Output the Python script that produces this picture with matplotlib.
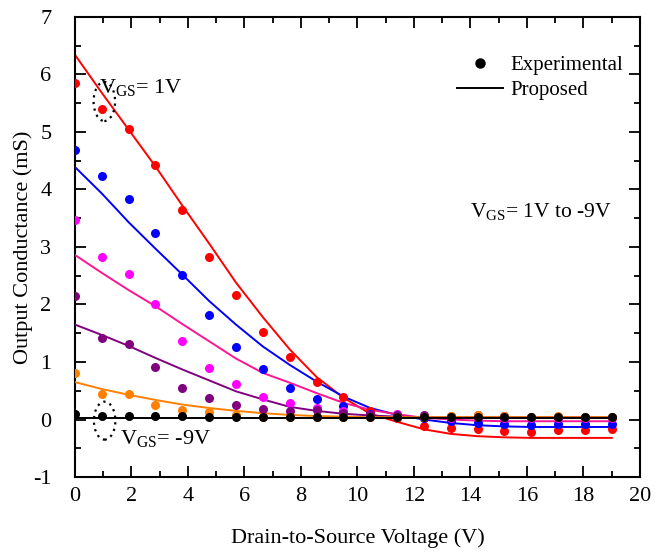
import matplotlib
matplotlib.use("Agg")
import matplotlib.pyplot as plt
from matplotlib.patches import Ellipse
from matplotlib.ticker import MultipleLocator
import numpy as np

plt.rcParams['font.family'] = ['Liberation Serif', 'DejaVu Serif']
plt.rcParams['mathtext.default'] = 'regular'
plt.rcParams['axes.unicode_minus'] = False

# drain-source voltage of measured points / model curve
vds = [0, 0.95, 1.9, 2.85, 3.8, 4.75, 5.7, 6.65, 7.6, 8.55, 9.5,
       10.45, 11.4, 12.35, 13.3, 14.25, 15.2, 16.15, 17.1, 18.05, 19]

# experimental output conductance (mS), VGS = 1V ... -9V
exp_red = [5.85, 5.40, 5.05, 4.43, 3.64, 2.82, 2.16, 1.52, 1.08, 0.65, 0.39,
           0.14, 0.03, -0.12, -0.14, -0.17, -0.20, -0.21, -0.19, -0.19, -0.16]
exp_blue = [4.69, 4.24, 3.83, 3.24, 2.52, 1.81, 1.26, 0.87, 0.54, 0.36, 0.24,
            0.10, 0.06, 0.03, -0.03, -0.06, -0.07, -0.09, -0.08, -0.08, -0.07]
exp_magenta = [3.47, 2.82, 2.53, 2.00, 1.36, 0.89, 0.62, 0.39, 0.29, 0.20, 0.14,
               0.08, 0.09, 0.04, 0.03, 0.04, 0.03, 0.03, 0.03, 0.03, 0.03]
exp_purple = [2.15, 1.41, 1.31, 0.91, 0.55, 0.38, 0.25, 0.19, 0.14, 0.16, 0.12,
              0.08, 0.07, 0.07, 0.06, 0.07, 0.06, 0.05, 0.05, 0.05, 0.05]
exp_orange = [0.81, 0.45, 0.45, 0.25, 0.17, 0.13, 0.07, 0.05, 0.05, 0.05, 0.05,
              0.05, 0.05, 0.05, 0.06, 0.07, 0.06, 0.05, 0.06, 0.05, 0.05]
exp_black = [0.10, 0.06, 0.06, 0.06, 0.06, 0.05, 0.05, 0.05, 0.05, 0.05, 0.05,
             0.05, 0.05, 0.05, 0.05, 0.05, 0.05, 0.05, 0.05, 0.05, 0.05]

# proposed model
mod_red = [6.34, 5.68, 5.04, 4.40, 3.72, 3.06, 2.38, 1.78, 1.22, 0.74, 0.38,
           0.10, -0.04, -0.17, -0.25, -0.29, -0.31, -0.32, -0.32, -0.32, -0.32]
mod_blue = [4.39, 3.93, 3.43, 2.97, 2.52, 2.06, 1.65, 1.27, 0.95, 0.66, 0.40,
            0.20, 0.08, 0.00, -0.06, -0.10, -0.12, -0.13, -0.13, -0.13, -0.13]
mod_pink = [2.86, 2.55, 2.25, 1.97, 1.66, 1.36, 1.06, 0.81, 0.64, 0.46, 0.29,
            0.17, 0.09, 0.03, 0.00, -0.02, -0.03, -0.03, -0.03, -0.03, -0.03]
mod_purple = [1.65, 1.47, 1.28, 1.07, 0.87, 0.68, 0.49, 0.35, 0.22, 0.15, 0.10,
              0.07, 0.05, 0.04, 0.04, 0.04, 0.04, 0.04, 0.04, 0.04, 0.04]
mod_orange = [0.65, 0.53, 0.43, 0.34, 0.26, 0.20, 0.15, 0.11, 0.08, 0.06, 0.05,
              0.04, 0.04, 0.04, 0.04, 0.04, 0.04, 0.04, 0.04, 0.04, 0.04]
mod_black = [0.03] * 21

series = [
    (exp_red, mod_red, '#ff0000', '#ff0000'),
    (exp_blue, mod_blue, '#0000ff', '#0000ff'),
    (exp_magenta, mod_pink, '#ff00ff', '#ff1493'),
    (exp_purple, mod_purple, '#800080', '#800080'),
    (exp_orange, mod_orange, '#ff8000', '#ff8000'),
    (exp_black, mod_black, '#000000', '#000000'),
]

fig = plt.figure(figsize=(6.67, 5.53), dpi=100)
ax = fig.add_axes([0.1124, 0.1374, 0.8471, 0.832])

for i, (e, m, cpt, cln) in enumerate(series):
    ax.plot(vds, m, '-', color=cln, lw=1.4, zorder=2 + i)
    ax.plot(vds, e, 'o', color=cpt, ms=6.5, mec='none', zorder=10 + i)

# legend entries
ax.plot([], [], 'o', color='black', ms=6.5, label='Experimental')
ax.plot([], [], '-', color='black', lw=1.4, label='Proposed')
ax.legend(loc='upper left', bbox_to_anchor=(0.676, 0.916), frameon=False,
          fontsize=15, handlelength=2.2, handletextpad=0.35, borderpad=0,
          borderaxespad=0, labelspacing=0.25)

# annotations
ax.add_patch(Ellipse((1.04, 5.53), 0.76, 0.68, fill=False, ls=(0, (1, 2)),
                     lw=1.6, color='black', zorder=30))
ax.add_patch(Ellipse((1.05, -0.02), 0.76, 0.66, fill=False, ls=(0, (1, 2)),
                     lw=1.6, color='black', zorder=30))
ax.text(0.85, 5.78, 'V$_{GS}$= 1V', fontsize=16, va='center', ha='left')
ax.text(1.6, -0.33, 'V$_{GS}$= -9V', fontsize=16, va='center', ha='left')
ax.text(14.0, 3.62, 'V$_{GS}$= 1V to -9V', fontsize=15.5, va='center', ha='left')

ax.set_xlim(0, 20)
ax.set_ylim(-1, 7)
ax.xaxis.set_major_locator(MultipleLocator(2))
ax.xaxis.set_minor_locator(MultipleLocator(1))
ax.yaxis.set_major_locator(MultipleLocator(1))
ax.yaxis.set_minor_locator(MultipleLocator(0.5))
ax.tick_params(which='both', direction='in', top=True, right=True,
               labelsize=16, width=1.3)
ax.tick_params(which='major', length=8)
ax.tick_params(which='minor', length=4.5)
ax.tick_params(axis='x', which='major', pad=7)
ax.tick_params(axis='y', which='major', pad=17)
for s in ax.spines.values():
    s.set_linewidth(1.5)

ax.set_xlabel('Drain-to-Source Voltage (V)', fontsize=16, labelpad=16)
ax.set_ylabel('Output Conductance (mS)', fontsize=16, labelpad=0)

fig.savefig('out.png', dpi=100)
